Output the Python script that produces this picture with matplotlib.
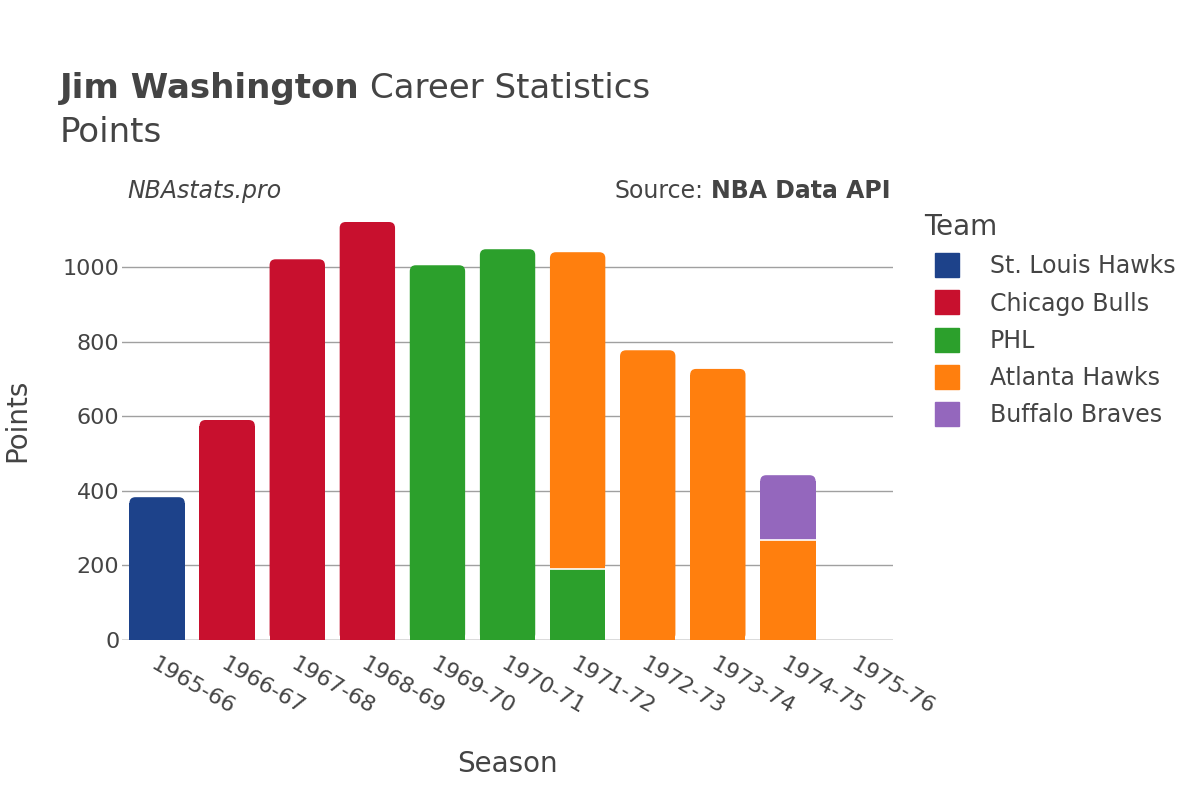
import numpy as np
import matplotlib.pyplot as plt
from matplotlib.patches import FancyBboxPatch
from matplotlib.lines import Line2D

# Datos
seasons = ['1965-66', '1966-67', '1967-68', '1968-69', '1969-70', '1970-71',
           '1971-72', '1972-73', '1973-74', '1974-75', '1975-76']
teams = ['St. Louis Hawks', 'Chicago Bulls', 'PHL', 'Atlanta Hawks', 'Buffalo Braves']
stl_pts = [383, 0, 0, 0, 0, 0, 0, 0, 0, 0, 0]
chi_pts = [0, 590, 1021, 1121, 0, 0, 0, 0, 0, 0, 0]
phl_pts = [0, 0, 0, 0, 1005, 1048, 190, 0, 0, 0, 0]
atl_pts = [0, 0, 0, 0, 0, 0, 850, 777, 727, 268, 0]
buf_pts = [0, 0, 0, 0, 0, 0, 0, 0, 0, 174, 0]
colors = ['#1d428a', '#c8102e', '#2ca02c', '#ff7f0e', '#9467bd']

series = [stl_pts, chi_pts, phl_pts, atl_pts, buf_pts]
text_color = '#444444'
plt.rcParams['font.family'] = ['DejaVu Sans']

fig = plt.figure(figsize=(12, 8), dpi=100)
ax = fig.add_axes([0.1017, 0.2, 0.6425, 0.55])

x = np.arange(len(seasons))
width = 0.79
ymax = 1180
ax.set_xlim(-0.5, len(seasons) - 0.5)
ax.set_ylim(0, ymax)

# radio de las esquinas en px -> unidades de datos
r_px = 6
ax_w_px = 0.6425 * 1200
ax_h_px = 0.55 * 800
rx = r_px * len(seasons) / ax_w_px
ry = r_px * ymax / ax_h_px

totals = np.sum(np.array(series), axis=0)
bottom = np.zeros(len(seasons))
for vals, color in zip(series, colors):
    vals = np.array(vals, dtype=float)
    for i in range(len(seasons)):
        v = vals[i]
        if v <= 0:
            continue
        b = bottom[i]
        is_top = np.isclose(b + v, totals[i])
        if is_top:
            # parte cuadrada inferior + parte redondeada superior
            ax.bar(x[i], v - ry, width=width, bottom=b, color=color,
                   edgecolor='none', zorder=2)
            patch = FancyBboxPatch((x[i] - width / 2 + rx, b + ry),
                                   width - 2 * rx, v - 2 * ry,
                                   boxstyle=f"round,pad={rx}",
                                   mutation_aspect=ry / rx,
                                   facecolor=color, edgecolor='none', zorder=2)
            ax.add_patch(patch)
        else:
            ax.bar(x[i], v, width=width, bottom=b, color=color,
                   edgecolor='none', zorder=2)
        if b > 0:
            ax.plot([x[i] - width / 2, x[i] + width / 2], [b, b],
                    color='white', lw=1.2, zorder=3)
    bottom += vals

# Ejes y rejilla
ax.set_yticks([0, 200, 400, 600, 800, 1000])
ax.yaxis.grid(True, color='#a0a0a0', lw=1, zorder=0)
ax.axhline(0, color='#e8e8e8', lw=2, zorder=1)
for s in ax.spines.values():
    s.set_visible(False)
ax.tick_params(axis='both', length=0, labelsize=16, colors=text_color)
ax.tick_params(axis='y', pad=2)
ax.set_xticks(x)
ax.set_xticklabels(seasons, rotation=-30, ha='left', rotation_mode='anchor')
ax.tick_params(axis='x', pad=10)

ax.set_xlabel('Season', fontsize=20, color=text_color)
ax.set_ylabel('Points', fontsize=20, color=text_color)
ax.xaxis.set_label_coords(0.5, -0.25)
ax.yaxis.set_label_coords(-0.118, 0.5)

# Títulos
t = fig.text(0.05, 0.877, 'Jim Washington', fontsize=24.5, fontweight='bold',
             color=text_color, va='baseline')
fig.canvas.draw()
bb = t.get_window_extent()
fig.text(bb.x1 / 1200 + 0.009, 0.877, 'Career Statistics', fontsize=24.5,
         color=text_color, va='baseline')
fig.text(0.05, 0.823, 'Points', fontsize=24.5, color=text_color, va='baseline')

fig.text(0.106, 0.752, 'NBAstats.pro', fontsize=17, style='italic',
         color=text_color, va='baseline')
src = fig.text(0.742, 0.752, 'NBA Data API', fontsize=17, fontweight='bold',
               color=text_color, va='baseline', ha='right')
fig.canvas.draw()
bb2 = src.get_window_extent()
fig.text(bb2.x0 / 1200 - 0.006, 0.752, 'Source:', fontsize=17,
         color=text_color, va='baseline', ha='right')

# Leyenda
handles = [Line2D([0], [0], marker='s', linestyle='none', markersize=17,
                  markerfacecolor=c, markeredgecolor=c) for c in colors]
leg = fig.legend(handles, teams, loc='upper left', bbox_to_anchor=(0.752, 0.76),
                 frameon=False, fontsize=17, title='Team', title_fontsize=20,
                 labelspacing=0.56, handletextpad=0.8, alignment='left')
for txt in leg.get_texts():
    txt.set_color(text_color)
leg.get_title().set_color(text_color)

plt.savefig('out.png', dpi=100)
